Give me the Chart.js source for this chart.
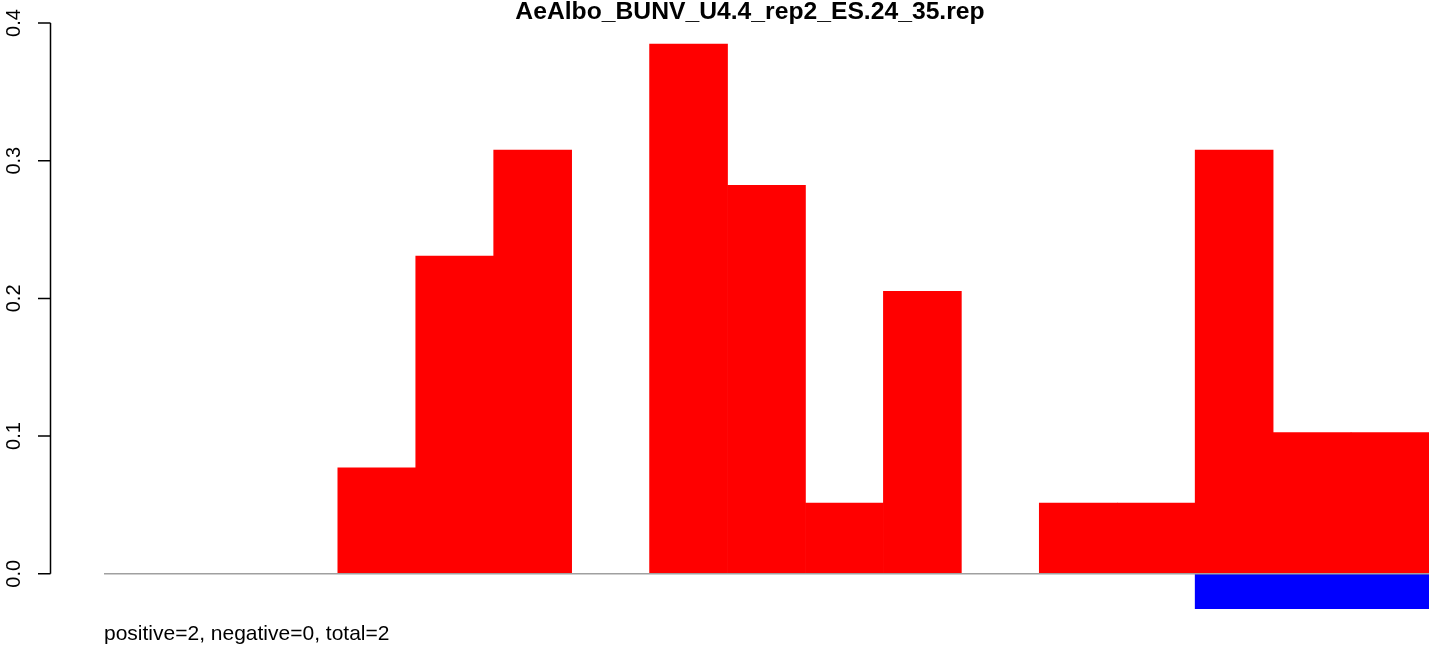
<!DOCTYPE html>
<html>
<head>
<meta charset="utf-8">
<script src="https://cdn.jsdelivr.net/npm/chart.js@4"></script>
<style>
    html, body { margin: 0; padding: 0; background: #fff; }
    #wrap { width: 1429px; height: 649px; }
</style>
</head>
<body>
<div id="wrap"><canvas id="repChart" width="1429" height="649"></canvas></div>
<script>
// Данные

const positions = ['1', '2', '3', '4', '5', '6', '7', '8', '9', '10', '11', '12', '13', '14', '15', '16', '17'];
const positiveValues = [0, 0, 0, 0.0769, 0.2308, 0.3077, 0, 0.3846, 0.2821, 0.0513, 0.2051, 0, 0.0513, 0.0513, 0.3077, 0.1026, 0.1026];
const negativeValues = [null, null, null, null, null, null, null, null, null, null, null, null, null, null, -0.0256, -0.0256, -0.0256];
const yTicks = [0, 0.1, 0.2, 0.3, 0.4];
const yTickLabels = ['0.0', '0.1', '0.2', '0.3', '0.4'];
const titleText = 'AeAlbo_BUNV_U4.4_rep2_ES.24_35.rep';
const footText = 'positive=2, negative=0, total=2';

const fontFamily = '"Liberation Sans", Arial, Helvetica, sans-serif';

// Ось Y, базовая линия и подписи в стиле R

const rStylePlugin = {
    id: 'rStyle',
    afterDatasetsDraw(chart) {
        const ctx = chart.ctx;
        const area = chart.chartArea;
        const y = chart.scales.y;
        const zero = y.getPixelForValue(0);

        ctx.save();
        ctx.strokeStyle = '#a0a0a0';
        ctx.lineWidth = 1.5;
        ctx.beginPath();
        ctx.moveTo(area.left, zero);
        ctx.lineTo(area.right, zero);
        ctx.stroke();
        ctx.restore();
    },
    afterDraw(chart) {
        const ctx = chart.ctx;
        const y = chart.scales.y;
        const axisX = 50.5;

        ctx.save();
        ctx.strokeStyle = '#000';
        ctx.lineWidth = 1.5;
        ctx.beginPath();
        ctx.moveTo(axisX, y.getPixelForValue(yTicks[0]));
        ctx.lineTo(axisX, y.getPixelForValue(yTicks[yTicks.length - 1]));
        yTicks.forEach(v => {
            const py = y.getPixelForValue(v);
            ctx.moveTo(axisX, py);
            ctx.lineTo(38, py);
        });
        ctx.stroke();

        ctx.fillStyle = '#000';
        ctx.font = '20px ' + fontFamily;
        ctx.textAlign = 'center';
        ctx.textBaseline = 'alphabetic';
        yTicks.forEach((v, i) => {
            const py = y.getPixelForValue(v);
            ctx.save();
            ctx.translate(20, py);
            ctx.rotate(-Math.PI / 2);
            ctx.fillText(yTickLabels[i], 0, 0);
            ctx.restore();
        });

        ctx.font = 'bold 24.7px ' + fontFamily;
        ctx.textAlign = 'center';
        ctx.fillText(titleText, 750, 19);

        ctx.font = '21px ' + fontFamily;
        ctx.textAlign = 'left';
        ctx.fillText(footText, 104, 640);
        ctx.restore();
    }
};

const repChart = document.getElementById('repChart');
const repData = {
    labels: positions,
    datasets: [
        {
            label: 'positive',
            data: positiveValues,
            backgroundColor: '#ff0000',
            borderWidth: 0,
            barPercentage: 1,
            categoryPercentage: 1,
        },
        {
            label: 'negative',
            data: negativeValues,
            backgroundColor: '#0000ff',
            borderWidth: 0,
            barPercentage: 1,
            categoryPercentage: 1,
        }
    ]
};

const repConfig = {
    type: 'bar',
    data: repData,
    options: {
        responsive: false,
        animation: false,
        layout: {
            padding: { left: 104, right: 0, top: 23, bottom: 40 }
        },
        scales: {
            x: { display: false, stacked: true },
            y: { display: false, stacked: true, min: -0.0256, max: 0.4 }
        },
        plugins: {
            legend: { display: false },
            title: { display: false },
            tooltip: { enabled: false },
        },
    },
    plugins: [rStylePlugin],
};

new Chart(repChart, repConfig);
</script>
</body>
</html>
